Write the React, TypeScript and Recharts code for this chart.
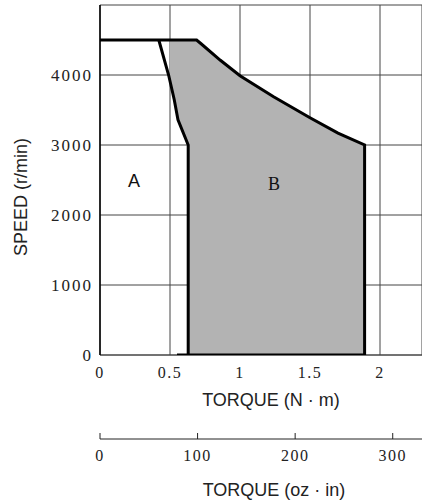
import { Area, CartesianGrid, ComposedChart, Label, Scatter, XAxis, YAxis } from "recharts";

const torqueTicks = [0, 0.5, 1, 1.5, 2];
const speedTicks = [0, 1000, 2000, 3000, 4000, 5000];
const ozTicks = [0, 100, 200, 300];

// shaded zone B: lower / upper speed at each torque
const shadeTorque = [0.5, 0.53, 0.557, 0.63, 0.63, 0.69, 0.72, 0.86, 1.0, 1.24, 1.5, 1.7, 1.89];
const shadeLow = [3910, 3650, 3360, 3000, 0, 0, 0, 0, 0, 0, 0, 0, 0];
const shadeHigh = [4500, 4500, 4500, 4500, 4500, 4500, 4450, 4210, 3990, 3690, 3390, 3170, 3000];

// outer limit (top of A + B)
const outerTorque = [0, 0.69, 0.72, 0.86, 1.0, 1.24, 1.5, 1.7, 1.89, 1.89, 0.55];
const outerSpeed = [4500, 4500, 4450, 4210, 3990, 3690, 3390, 3170, 3000, 0, 0];

// boundary between A and B
const innerTorque = [0.42, 0.49, 0.53, 0.557, 0.63, 0.63];
const innerSpeed = [4500, 4000, 3650, 3360, 3000, 0];

const zoneNames = ["A", "B"];
const zoneTorque = [0.243, 1.243];
const zoneSpeed = [2480, 2450];

const shadeData = shadeTorque.map((t, i) => ({ t, shade: [shadeLow[i], shadeHigh[i]] }));
const outerData = outerTorque.map((t, i) => ({ t, s: outerSpeed[i] }));
const innerData = innerTorque.map((t, i) => ({ t, s: innerSpeed[i] }));
const zoneData = zoneNames.map((name, i) => ({ name, t: zoneTorque[i], s: zoneSpeed[i] }));
const ozData = ozTicks.map((t) => ({ t, s: 0 }));

const serif = "Liberation Serif, DejaVu Serif, serif";
const sans = "Liberation Sans, Arial, sans-serif";

const noDot = () => <g />;

export default function App() {
  return (
    <div style={{ position: "absolute", top: 0, left: 0 }}>
      <ComposedChart
        width={422}
        height={504}
        data={shadeData}
        margin={{ top: 5, right: 0, bottom: 0, left: 0 }}
      >
        <CartesianGrid stroke="#444" strokeWidth={1} />
        <XAxis
          dataKey="t"
          type="number"
          domain={[0, 2.3]}
          allowDataOverflow
          ticks={torqueTicks}
          interval={0}
          height={84}
          tickSize={0}
          tickMargin={12}
          axisLine={{ stroke: "#444" }}
          tickLine={false}
          tick={{ fontFamily: serif, fontSize: 16, fill: "#222", letterSpacing: 1.5 }}
        >
          <Label
            value="TORQUE (N · m)"
            position="insideTop"
            offset={38}
            dx={10}
            style={{ fontFamily: sans, fontSize: 18, fill: "#222" }}
          />
        </XAxis>
        <XAxis
          xAxisId="oz"
          dataKey="t"
          type="number"
          domain={[0, 330]}
          allowDataOverflow
          ticks={ozTicks}
          interval={0}
          height={65}
          tickSize={-6}
          tickMargin={17}
          axisLine={{ stroke: "#222" }}
          tickLine={{ stroke: "#222" }}
          tick={{ fontFamily: serif, fontSize: 16, fill: "#222", letterSpacing: 1.5 }}
        >
          <Label
            value="TORQUE (oz · in)"
            position="insideTop"
            offset={44}
            dx={13}
            style={{ fontFamily: sans, fontSize: 18, fill: "#222" }}
          />
        </XAxis>
        <YAxis
          dataKey="s"
          type="number"
          domain={[0, 5000]}
          allowDataOverflow
          ticks={speedTicks}
          interval={0}
          width={100}
          tickSize={0}
          tickMargin={7}
          axisLine={{ stroke: "#000", strokeWidth: 1.5 }}
          tickLine={false}
          tickFormatter={(v: number) => (v === 5000 ? "" : String(v))}
          tick={{ fontFamily: serif, fontSize: 17, fill: "#222", letterSpacing: 2 }}
        >
          <Label
            content={(props: any) => {
              const vb = props.viewBox || { x: 0, y: 5, height: 350 };
              const cx = vb.x + 21;
              const cy = vb.y + vb.height / 2 + 17;
              return (
                <text
                  x={cx}
                  y={cy}
                  transform={`rotate(-90 ${cx} ${cy})`}
                  textAnchor="middle"
                  dominantBaseline="central"
                  style={{ fontFamily: sans, fontSize: 18, fill: "#222" }}
                >
                  SPEED (r/min)
                </text>
              );
            }}
          />
        </YAxis>
        <Area
          type="linear"
          dataKey="shade"
          stroke="none"
          fill="#b3b3b3"
          fillOpacity={1}
          isAnimationActive={false}
          activeDot={false}
        />
        <Scatter
          data={outerData}
          line={{ stroke: "#000", strokeWidth: 3 }}
          lineJointType="linear"
          shape={noDot}
          isAnimationActive={false}
        />
        <Scatter
          data={innerData}
          line={{ stroke: "#000", strokeWidth: 3 }}
          lineJointType="linear"
          shape={noDot}
          isAnimationActive={false}
        />
        <Scatter xAxisId="oz" data={ozData} shape={noDot} isAnimationActive={false} />
        <Scatter
          data={zoneData}
          isAnimationActive={false}
          shape={(p: any) => (
            <text
              x={p.cx}
              y={p.cy}
              textAnchor="middle"
              dominantBaseline="central"
              style={{
                fontFamily: p.payload.name === "A" ? sans : serif,
                fontSize: 18,
                fill: "#111",
              }}
            >
              {p.payload.name}
            </text>
          )}
        />
      </ComposedChart>
    </div>
  );
}
